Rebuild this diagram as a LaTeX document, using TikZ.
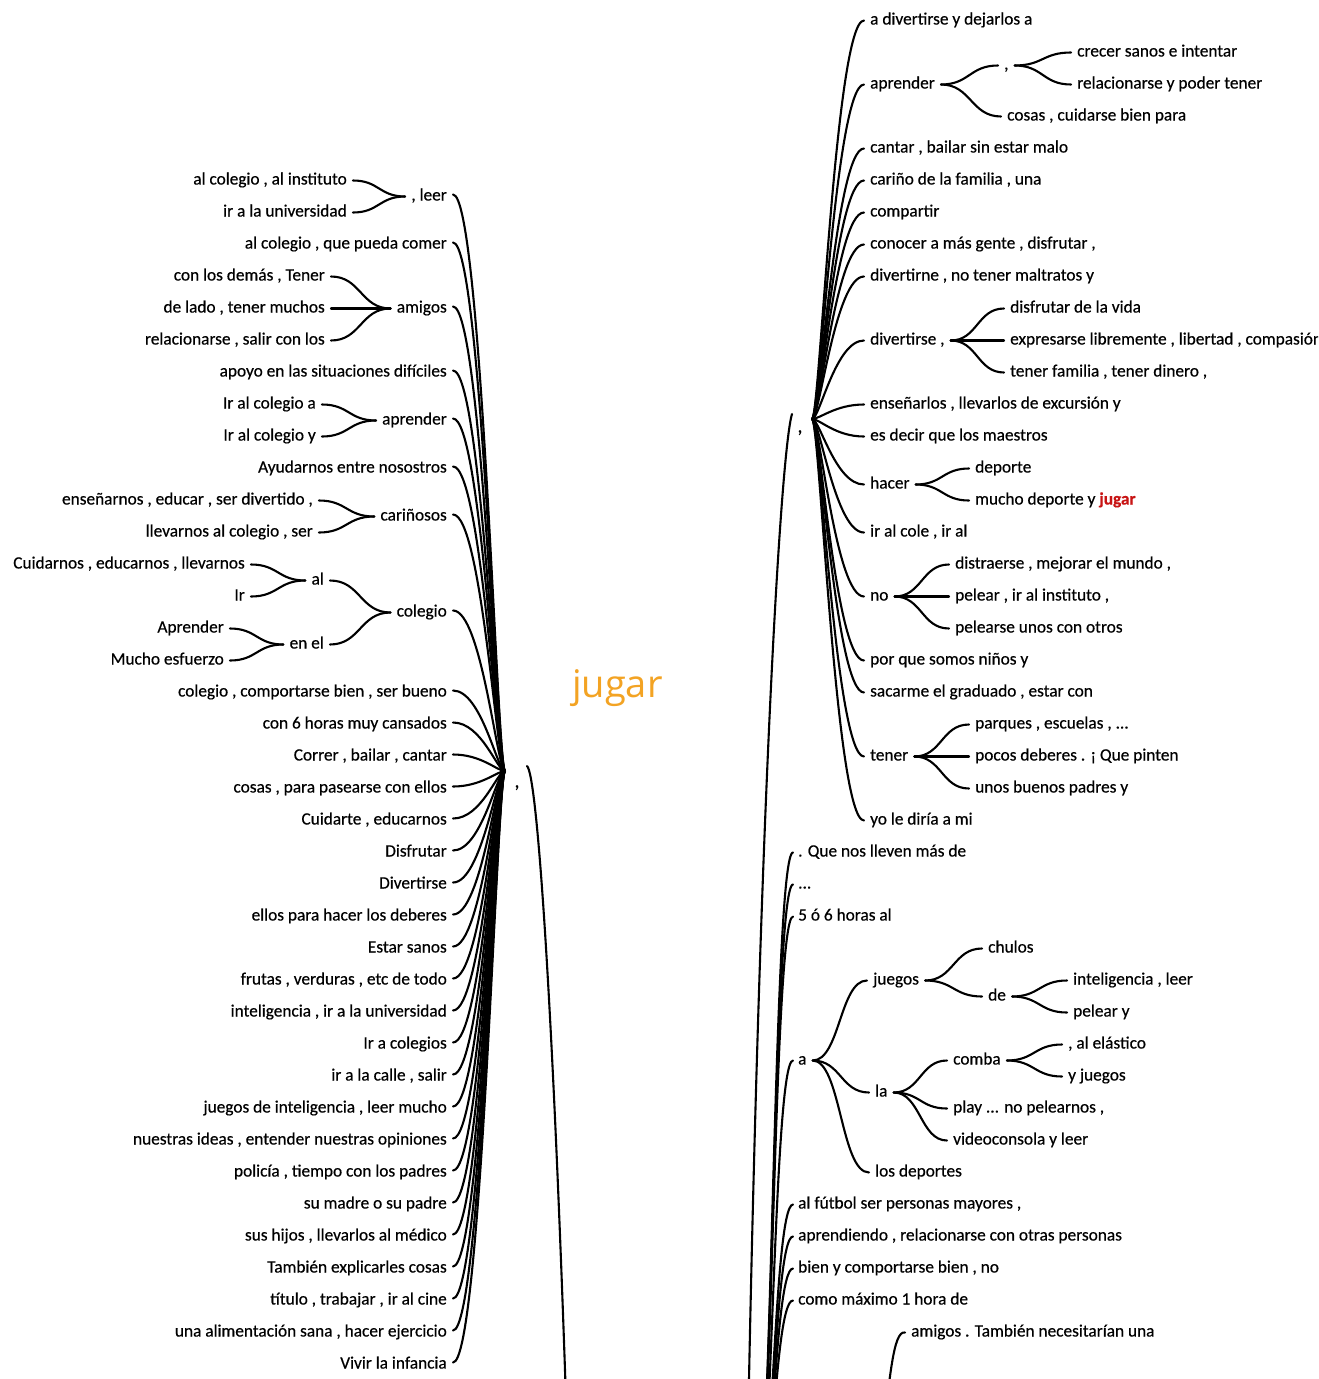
\documentclass[tikz,border=0pt]{standalone}
\usepackage{fontspec}
\setmainfont{Carlito}[FakeBold=0.5]
\newfontfamily\jf{Open Sans}
\usetikzlibrary{calc}
\definecolor{jorange}{RGB}{243,163,35}
\definecolor{jred}{RGB}{200,20,20}
\begin{document}
\begin{tikzpicture}[x=1pt,y=-1pt,
 lab/.style={inner sep=0pt, font=\fontsize{17.3}{20}\selectfont, text height=12pt, text depth=4pt, yshift=-1.5pt},
 L/.style={lab,anchor=east}, R/.style={lab,anchor=west},
 con/.style={line width=2.1pt, line cap=round},
 wt/.style={to path={let \p1=(\tikztostart), \p2=(\tikztotarget) in .. controls ({(\x1+\x2)/2},\y1) and ({(\x1+\x2)/2},\y2) .. (\tikztotarget)}},
 wtl/.style={to path={let \p1=(\tikztostart), \p2=(\tikztotarget) in .. controls ({\x1+0.55*(\x2-\x1)},\y1) and ({\x1+0.85*(\x2-\x1)},\y2) .. (\tikztotarget)}},
 wtr/.style={to path={let \p1=(\tikztostart), \p2=(\tikztotarget) in .. controls ({\x1+0.15*(\x2-\x1)},\y1) and ({\x1+0.45*(\x2-\x1)},\y2) .. (\tikztotarget)}}
]
\useasboundingbox (0,0) rectangle (1318,1379);
\fill[white] (0,0) rectangle (1318,1379);
\clip (0,0) rectangle (1318,1379);

% ---------- centre label ----------
\node[anchor=base west, inner sep=0pt, text=jorange, font=\jf\fontsize{38}{40}\selectfont] (jugar) at (572,697) {jugar};

% ---------- hubs and trunk ends ----------
\coordinate (hubL) at (505,771);
\node[lab, anchor=center, font=\fontsize{20}{20}\selectfont] (cL) at (517,782) {,};
\coordinate (tL) at (527,766);
\coordinate (rootW) at (567,1430);
\coordinate (hubR) at (812,419);
\node[lab, anchor=center, font=\fontsize{20}{20}\selectfont] (cR) at (800,427) {,};
\coordinate (tR) at (792,414);
\coordinate (rootE) at (748,1430);
\coordinate (rootB) at (752,1560);
\coordinate (pS9) at (882,1440);

% ---------- left side ----------
\node[L] (lA) at (447,195) {, leer};
\node[L] (lA1) at (347,179) {al colegio , al instituto};
\node[L] (lA2) at (347,211) {ir a la universidad};
\node[L] (lB) at (447,243) {al colegio , que pueda comer};
\node[L] (lC) at (447,307) {amigos};
\node[L] (lC1) at (325,275) {con los demás , Tener};
\node[L] (lC2) at (325,307) {de lado , tener muchos};
\node[L] (lC3) at (325,339) {relacionarse , salir con los};
\node[L] (lD) at (447,371) {apoyo en las situaciones difíciles};
\node[L] (lE) at (447,419) {aprender};
\node[L] (lE1) at (316,403) {Ir al colegio a};
\node[L] (lE2) at (316,435) {Ir al colegio y};
\node[L] (lF) at (447,467) {Ayudarnos entre nosostros};
\node[L] (lG) at (447,515) {cariñosos};
\node[L] (lG1) at (313,499) {enseñarnos , educar , ser divertido ,};
\node[L] (lG2) at (313,531) {llevarnos al colegio , ser};
\node[L] (lH) at (447,611) {colegio};
\node[L] (lH1) at (324,579) {al};
\node[L] (lH2) at (324,643) {en el};
\node[L] (lH11) at (245,563) {Cuidarnos , educarnos , llevarnos};
\node[L] (lH12) at (245,595) {Ir};
\node[L] (lH21) at (224,627) {Aprender};
\node[L] (lH22) at (224,659) {Mucho esfuerzo};
\node[L] (l01) at (447,691) {colegio , comportarse bien , ser bueno};
\node[L] (l02) at (447,723) {con 6 horas muy cansados};
\node[L] (l03) at (447,755) {Correr , bailar , cantar};
\node[L] (l04) at (447,787) {cosas , para pasearse con ellos};
\node[L] (l05) at (447,819) {Cuidarte , educarnos};
\node[L] (l06) at (447,851) {Disfrutar};
\node[L] (l07) at (447,883) {Divertirse};
\node[L] (l08) at (447,915) {ellos para hacer los deberes};
\node[L] (l09) at (447,947) {Estar sanos};
\node[L] (l10) at (447,979) {frutas , verduras , etc de todo};
\node[L] (l11) at (447,1011) {inteligencia , ir a la universidad};
\node[L] (l12) at (447,1043) {Ir a colegios};
\node[L] (l13) at (447,1075) {ir a la calle , salir};
\node[L] (l14) at (447,1107) {juegos de inteligencia , leer mucho};
\node[L] (l15) at (447,1139) {nuestras ideas , entender nuestras opiniones};
\node[L] (l16) at (447,1171) {policía , tiempo con los padres};
\node[L] (l17) at (447,1203) {su madre o su padre};
\node[L] (l18) at (447,1235) {sus hijos , llevarlos al médico};
\node[L] (l19) at (447,1267) {También explicarles cosas};
\node[L] (l20) at (447,1299) {título , trabajar , ir al cine};
\node[L] (l21) at (447,1331) {una alimentación sana , hacer ejercicio};
\node[L] (l22) at (447,1363) {Vivir la infancia};

\foreach \n in {lA,lB,lC,lD,lE,lF,lG,lH,l01,l02,l03,l04,l05,l06,l07,l08,l09,l10,l11,l12,l13,l14,l15,l16,l17,l18,l19,l20,l21,l22}
  \draw[con] ([xshift=6pt,yshift=2pt]\n.east) to[wtl] (hubL);
\foreach \c/\p in {lA1/lA,lA2/lA,lC1/lC,lC2/lC,lC3/lC,lE1/lE,lE2/lE,lG1/lG,lG2/lG,lH1/lH,lH2/lH,lH11/lH1,lH12/lH1,lH21/lH2,lH22/lH2}
  \draw[con] ([xshift=6pt]\c.east) to[wt] ([xshift=-6pt]\p.west);

\draw[con] (tL) .. controls (537,774) and (553,1000) .. (rootW);

% ---------- right side, upper group ----------
\node[R] (r01) at (870,19) {a divertirse y dejarlos a};
\node[R] (r02) at (870,83) {aprender};
\node[R] (r021) at (1004,64) {,};
\node[R] (r0211) at (1077,51) {crecer sanos e intentar};
\node[R] (r0212) at (1077,83) {relacionarse y poder tener};
\node[R] (r022) at (1007,115) {cosas , cuidarse bien para};
\node[R] (r03) at (870,147) {cantar , bailar sin estar malo};
\node[R] (r04) at (870,179) {cariño de la familia , una};
\node[R] (r05) at (870,211) {compartir};
\node[R] (r06) at (870,243) {conocer a más gente , disfrutar ,};
\node[R] (r07) at (870,275) {divertirne , no tener maltratos y};
\node[R] (r08) at (870,339) {divertirse ,};
\node[R] (r081) at (1010,307) {disfrutar de la vida};
\node[R] (r082) at (1010,339) {expresarse libremente , libertad , compasión};
\node[R] (r083) at (1010,371) {tener familia , tener dinero ,};
\node[R] (r09) at (870,403) {enseñarlos , llevarlos de excursión y};
\node[R] (r10) at (870,435) {es decir que los maestros};
\node[R] (r11) at (870,483) {hacer};
\node[R] (r111) at (975,467) {deporte};
\node[R] (r112) at (975,499) {mucho deporte y \textcolor{jred}{\bfseries jugar}};
\node[R] (r12) at (870,531) {ir al cole , ir al};
\node[R] (r13) at (870,595) {no};
\node[R] (r131) at (955,563) {distraerse , mejorar el mundo ,};
\node[R] (r132) at (955,595) {pelear , ir al instituto ,};
\node[R] (r133) at (955,627) {pelearse unos con otros};
\node[R] (r14) at (870,659) {por que somos niños y};
\node[R] (r15) at (870,691) {sacarme el graduado , estar con};
\node[R] (r16) at (870,755) {tener};
\node[R] (r161) at (975,723) {parques , escuelas , ...};
\node[R] (r162) at (975,755) {pocos deberes . ¡ Que pinten};
\node[R] (r163) at (975,787) {unos buenos padres y};
\node[R] (r17) at (870,819) {yo le diría a mi};

\foreach \n in {r01,r02,r03,r04,r05,r06,r07,r08,r09,r10,r11,r12,r13,r14,r15,r16,r17}
  \draw[con] (hubR) to[wtr] ([xshift=-6pt,yshift=0pt]\n.west);
\foreach \p/\c in {r02/r021,r02/r022,r021/r0211,r021/r0212,r08/r081,r08/r082,r08/r083,r11/r111,r11/r112,r13/r131,r13/r132,r13/r133,r16/r161,r16/r162,r16/r163}
  \draw[con] ([xshift=6pt]\p.east) to[wt] ([xshift=-6pt]\c.west);

\draw[con] (tR) .. controls (781,450) and (760,800) .. (rootE);

% ---------- right side, lower group ----------
\node[R] (s1) at (798,851) {. Que nos lleven más de};
\node[R] (s2) at (798,883) {...};
\node[R] (s3) at (798,915) {5 ó 6 horas al};
\node[R] (s4) at (798,1059) {a};
\node[R] (s41) at (873,979) {juegos};
\node[R] (s411) at (988,947) {chulos};
\node[R] (s412) at (988,995) {de};
\node[R] (s4121) at (1073,979) {inteligencia , leer};
\node[R] (s4122) at (1073,1011) {pelear y};
\node[R] (s42) at (875,1091) {la};
\node[R] (s421) at (953,1059) {comba};
\node[R] (s4211) at (1068,1043) {, al elástico};
\node[R] (s4212) at (1068,1075) {y juegos};
\node[R] (s422) at (953,1107) {play ... no pelearnos ,};
\node[R] (s423) at (953,1139) {videoconsola y leer};
\node[R] (s43) at (875,1171) {los deportes};
\node[R] (s5) at (798,1203) {al fútbol ser personas mayores ,};
\node[R] (s6) at (798,1235) {aprendiendo , relacionarse con otras personas};
\node[R] (s7) at (798,1267) {bien y comportarse bien , no};
\node[R] (s8) at (798,1299) {como máximo 1 hora de};
\node[R] (s9) at (911,1331) {amigos . También necesitarían una};

\foreach \n in {s1,s2,s3,s4,s5,s6,s7,s8}
  \draw[con] (rootB) to[wt] ([xshift=-5pt,yshift=0pt]\n.west);
\foreach \p/\c in {s4/s41,s4/s42,s4/s43,s41/s411,s41/s412,s412/s4121,s412/s4122,s42/s421,s42/s422,s42/s423,s421/s4211,s421/s4212}
  \draw[con] ([xshift=6pt]\p.east) to[wt] ([xshift=-6pt]\c.west);
\draw[con] (pS9) .. controls (890,1380) and (893,1330) .. ([xshift=-6pt]s9.west);
\end{tikzpicture}
\end{document}
